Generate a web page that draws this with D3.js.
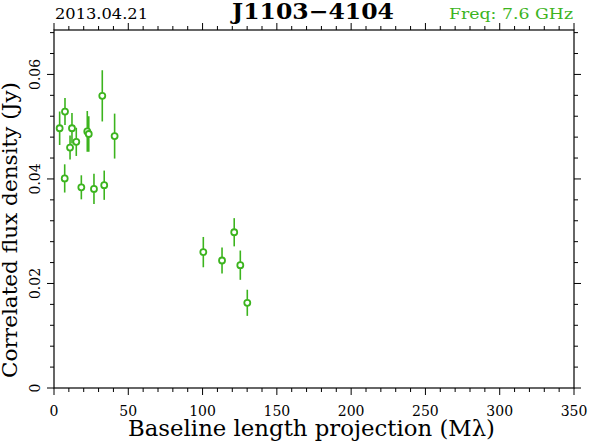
<!DOCTYPE html>
<html>
<head>
<meta charset="utf-8">
<script src="https://cdn.jsdelivr.net/npm/d3@7"></script>
<style>
  body { margin: 0; background: #fff; }
  text { font-family: "DejaVu Serif", "Liberation Serif", serif; }
</style>
</head>
<body>
<svg id="chart"></svg>
<script>
// baseline (Mlambda), flux (Jy), error (Jy)
const baseline = [3.8, 7.4, 12.1, 10.8, 15.0, 22.4, 23.4, 32.5, 40.8, 7.2, 18.4, 26.9, 33.8,
                  100.5, 113.1, 121.3, 125.4, 130.1];
const flux = [0.0497, 0.0529, 0.0497, 0.0460, 0.0471, 0.0491, 0.0486, 0.0559, 0.0482, 0.0401, 0.0384, 0.0381, 0.0388,
              0.0260, 0.0244, 0.0298, 0.0235, 0.0163];
const fluxErr = [0.0032, 0.0026, 0.0029, 0.0023, 0.0027, 0.0039, 0.0034, 0.0049, 0.0043, 0.0027, 0.0023, 0.0029, 0.0028,
                 0.0029, 0.0025, 0.0027, 0.0028, 0.0025];

const xTicks = [0, 50, 100, 150, 200, 250, 300, 350];
const yTicks = [0, 0.02, 0.04, 0.06];

const width = 590, height = 443;
const green = "#3cb41e";
const svg = d3.select("#chart").attr("width", width).attr("height", height);

const x = d3.scaleLinear().domain([0, 350]).range([54, 574]);
const y = d3.scaleLinear().domain([0, 0.0685]).range([388, 30]);

// frame
svg.append("rect")
  .attr("x", x(0)).attr("y", y(0.0685))
  .attr("width", x(350) - x(0)).attr("height", y(0) - y(0.0685))
  .attr("fill", "none").attr("stroke", "#000").attr("stroke-width", 1.2);

// ticks (outward) on all sides
const xMinor = d3.range(0, 351, 10);
const yMinor = d3.range(0, 0.0685, 0.004);
const frame = svg.append("g").attr("stroke", "#000").attr("stroke-width", 1);
xMinor.forEach(v => {
  const len = v % 50 === 0 ? 7 : 4;
  frame.append("line").attr("x1", x(v)).attr("x2", x(v)).attr("y1", y(0)).attr("y2", y(0) + len);
  frame.append("line").attr("x1", x(v)).attr("x2", x(v)).attr("y1", y(0.0685)).attr("y2", y(0.0685) - len);
});
yMinor.forEach((v, i) => {
  const len = i % 5 === 0 ? 7 : 4;
  frame.append("line").attr("y1", y(v)).attr("y2", y(v)).attr("x1", x(0)).attr("x2", x(0) - len);
  frame.append("line").attr("y1", y(v)).attr("y2", y(v)).attr("x1", x(350)).attr("x2", x(350) + len);
});

// tick labels
svg.append("g").selectAll("text").data(xTicks).join("text")
  .attr("x", d => x(d)).attr("y", 416)
  .attr("text-anchor", "middle").attr("font-size", 14)
  .text(d => d);

svg.append("g").selectAll("text").data(yTicks).join("text")
  .attr("transform", d => `translate(40,${y(d)}) rotate(-90)`)
  .attr("text-anchor", "middle").attr("font-size", 14)
  .text(d => d === 0 ? "0" : d.toFixed(2));

// axis titles
svg.append("text")
  .attr("x", 311.5).attr("y", 436)
  .attr("text-anchor", "middle").attr("font-size", 22)
  .attr("textLength", 367).attr("lengthAdjust", "spacingAndGlyphs")
  .text("Baseline length projection (M\u03bb)");

svg.append("text")
  .attr("transform", `translate(17,230) rotate(-90)`)
  .attr("text-anchor", "middle").attr("font-size", 20)
  .attr("textLength", 296).attr("lengthAdjust", "spacingAndGlyphs")
  .text("Correlated flux density (Jy)");

// header
svg.append("text").attr("x", 55).attr("y", 18.5).attr("font-size", 15)
  .attr("textLength", 93).attr("lengthAdjust", "spacingAndGlyphs").text("2013.04.21");
svg.append("text").attr("x", 313).attr("y", 18.5).attr("text-anchor", "middle")
  .attr("font-size", 22).attr("font-weight", "bold")
  .attr("textLength", 162).attr("lengthAdjust", "spacingAndGlyphs").text("J1103\u22124104");
svg.append("text").attr("x", 573).attr("y", 18.5).attr("text-anchor", "end")
  .attr("font-size", 15).attr("fill", green)
  .attr("textLength", 124).attr("lengthAdjust", "spacingAndGlyphs").text("Freq: 7.6 GHz");

// data
const pts = baseline.map((b, i) => ({ b, f: flux[i], e: fluxErr[i] }));
const g = svg.append("g").attr("stroke", green).attr("stroke-width", 1.6).attr("fill", "none");
g.selectAll("line").data(pts).join("line")
  .attr("x1", d => x(d.b)).attr("x2", d => x(d.b))
  .attr("y1", d => y(d.f - d.e)).attr("y2", d => y(d.f + d.e));
g.selectAll("circle").data(pts).join("circle")
  .attr("cx", d => x(d.b)).attr("cy", d => y(d.f)).attr("r", 3)
  .attr("fill", "#fff").attr("stroke-width", 1.8);
</script>
</body>
</html>
